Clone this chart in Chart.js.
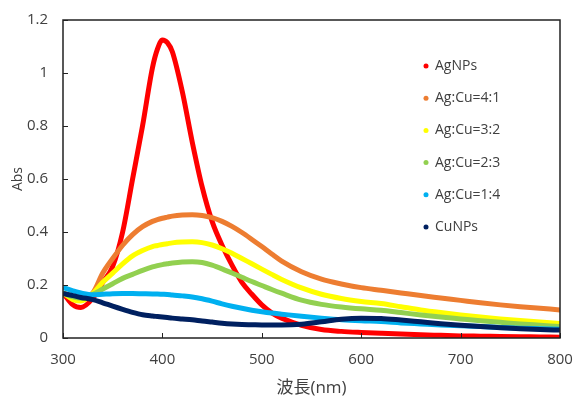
<!DOCTYPE html>
<html><head><meta charset="utf-8">
<script src="https://cdn.jsdelivr.net/npm/chart.js@4/dist/chart.umd.min.js"></script>
<style>html,body{margin:0;padding:0;background:#fff}#wrap{width:574px;height:400px}</style>
</head><body><div id="wrap"><canvas id="c" width="574" height="400"></canvas></div>
<script>
const wavelengths = [300,310,318,330,340,350,360,370,380,390,395,400,405,410,420,430,440,450,460,470,480,490,500,510,520,540,560,580,600,620,640,660,680,700,720,740,760,780,800];
const seriesNames = ["AgNPs","Ag:Cu=4:1","Ag:Cu=3:2","Ag:Cu=2:3","Ag:Cu=1:4","CuNPs"];
const agNPs  = [0.17,0.125,0.115,0.15,0.21,0.27,0.40,0.60,0.80,1.02,1.09,1.125,1.115,1.08,0.93,0.74,0.57,0.44,0.35,0.275,0.21,0.165,0.125,0.095,0.075,0.048,0.032,0.025,0.021,0.018,0.015,0.012,0.01,0.008,0.007,0.006,0.005,0.004,0.003];
const ag4cu1 = [0.17,0.155,0.15,0.17,0.245,0.30,0.35,0.39,0.42,0.44,0.447,0.452,0.456,0.46,0.464,0.465,0.462,0.454,0.44,0.421,0.398,0.372,0.345,0.317,0.29,0.25,0.222,0.204,0.19,0.18,0.17,0.16,0.151,0.142,0.133,0.125,0.118,0.112,0.106];
const ag3cu2 = [0.17,0.145,0.14,0.168,0.21,0.245,0.28,0.31,0.33,0.345,0.349,0.353,0.356,0.359,0.362,0.363,0.36,0.351,0.337,0.32,0.30,0.28,0.26,0.24,0.221,0.189,0.165,0.149,0.138,0.13,0.118,0.106,0.096,0.087,0.079,0.072,0.066,0.06,0.055];
const ag2cu3 = [0.17,0.155,0.15,0.165,0.185,0.205,0.225,0.24,0.255,0.268,0.273,0.277,0.28,0.283,0.287,0.288,0.285,0.275,0.261,0.245,0.229,0.213,0.198,0.183,0.169,0.143,0.127,0.117,0.11,0.105,0.096,0.087,0.079,0.072,0.065,0.059,0.053,0.048,0.043];
const ag1cu4 = [0.19,0.178,0.17,0.163,0.165,0.167,0.168,0.168,0.167,0.166,0.166,0.165,0.164,0.162,0.159,0.155,0.148,0.139,0.129,0.12,0.112,0.105,0.099,0.094,0.09,0.082,0.075,0.069,0.065,0.062,0.057,0.053,0.049,0.046,0.043,0.04,0.037,0.035,0.033];
const cuNPs  = [0.168,0.16,0.153,0.145,0.133,0.12,0.108,0.097,0.088,0.083,0.081,0.079,0.077,0.075,0.072,0.069,0.064,0.06,0.056,0.053,0.051,0.05,0.049,0.049,0.049,0.052,0.061,0.071,0.075,0.074,0.068,0.061,0.054,0.048,0.043,0.039,0.035,0.032,0.03];
const seriesColors = ["#FF0000","#ED7D31","#FFFF00","#92D050","#00B0F0","#002060"];
const xTicks = [300,400,500,600,700,800];
const yTicks = [0,0.2,0.4,0.6,0.8,1,1.2];
const xTitle = "波長(nm)";
const yTitle = "Abs";

const allSeries = [agNPs, ag4cu1, ag3cu2, ag2cu3, ag1cu4, cuNPs];
const FONT = '"Open Sans", "Noto Sans CJK JP", sans-serif';
const TXT = '#404040';

const datasets = allSeries.map((vals, i) => ({
  label: seriesNames[i],
  data: wavelengths.map((w, j) => ({x: w, y: vals[j]})),
  borderColor: seriesColors[i],
  backgroundColor: seriesColors[i],
  borderWidth: 5,
  pointRadius: 0,
  cubicInterpolationMode: 'monotone',
  fill: false,
  order: 5 - i
}));

const framePlugin = {
  id: 'frame',
  afterDatasetsDraw(chart) {
    const {ctx, chartArea: a, scales} = chart;
    ctx.save();
    ctx.strokeStyle = '#222';
    ctx.lineWidth = 1.5;
    ctx.strokeRect(a.left, a.top, a.right - a.left, a.bottom - a.top);
    ctx.lineWidth = 1;
    ctx.beginPath();
    xTicks.forEach(v => {
      const px = Math.round(scales.x.getPixelForValue(v)) + 0.5;
      ctx.moveTo(px, a.bottom); ctx.lineTo(px, a.bottom - 5);
    });
    yTicks.forEach(v => {
      const py = Math.round(scales.y.getPixelForValue(v)) + 0.5;
      ctx.moveTo(a.left, py); ctx.lineTo(a.left + 5, py);
    });
    ctx.stroke();
    ctx.font = '14px ' + FONT;
    ctx.textBaseline = 'middle';
    ctx.textAlign = 'left';
    chart.data.datasets.forEach((ds, i) => {
      const y = 66 + i * 32.2;
      ctx.fillStyle = ds.borderColor;
      ctx.beginPath(); ctx.arc(426, y, 2.5, 0, Math.PI * 2); ctx.fill();
      ctx.fillStyle = TXT;
      ctx.fillText(ds.label, 435, y);
    });
    ctx.restore();
  }
};

new Chart(document.getElementById('c'), {
  type: 'line',
  data: { datasets },
  options: {
    responsive: false,
    animation: false,
    layout: { padding: { left: 0, right: 14, top: 20, bottom: 0 } },
    plugins: { legend: { display: false }, tooltip: { enabled: false } },
    scales: {
      x: {
        type: 'linear', min: 300, max: 800,
        afterBuildTicks: s => { s.ticks = xTicks.map(v => ({value: v})); },
        afterFit: s => { s.height = 62; s.paddingLeft = 0; s.paddingRight = 0; },
        grid: { display: false, drawTicks: false },
        border: { display: false },
        ticks: { color: TXT, font: { family: FONT, size: 15 }, padding: 13, maxRotation: 0 },
        title: { display: true, text: xTitle, color: TXT, font: { family: FONT, size: 17 }, padding: { top: 0, bottom: 2 } }
      },
      y: {
        min: 0, max: 1.2,
        afterBuildTicks: s => { s.ticks = yTicks.map(v => ({value: v})); },
        afterFit: s => { s.width = 63; s.paddingTop = 0; s.paddingBottom = 0; },
        grid: { display: false, drawTicks: false },
        border: { display: false },
        ticks: { color: TXT, font: { family: FONT, size: 15 }, padding: 15, callback: v => String(v) },
        title: { display: true, text: yTitle, color: TXT, font: { family: FONT, size: 14 }, padding: { top: 10, bottom: 0 } }
      }
    }
  },
  plugins: [framePlugin]
});
</script></body></html>
